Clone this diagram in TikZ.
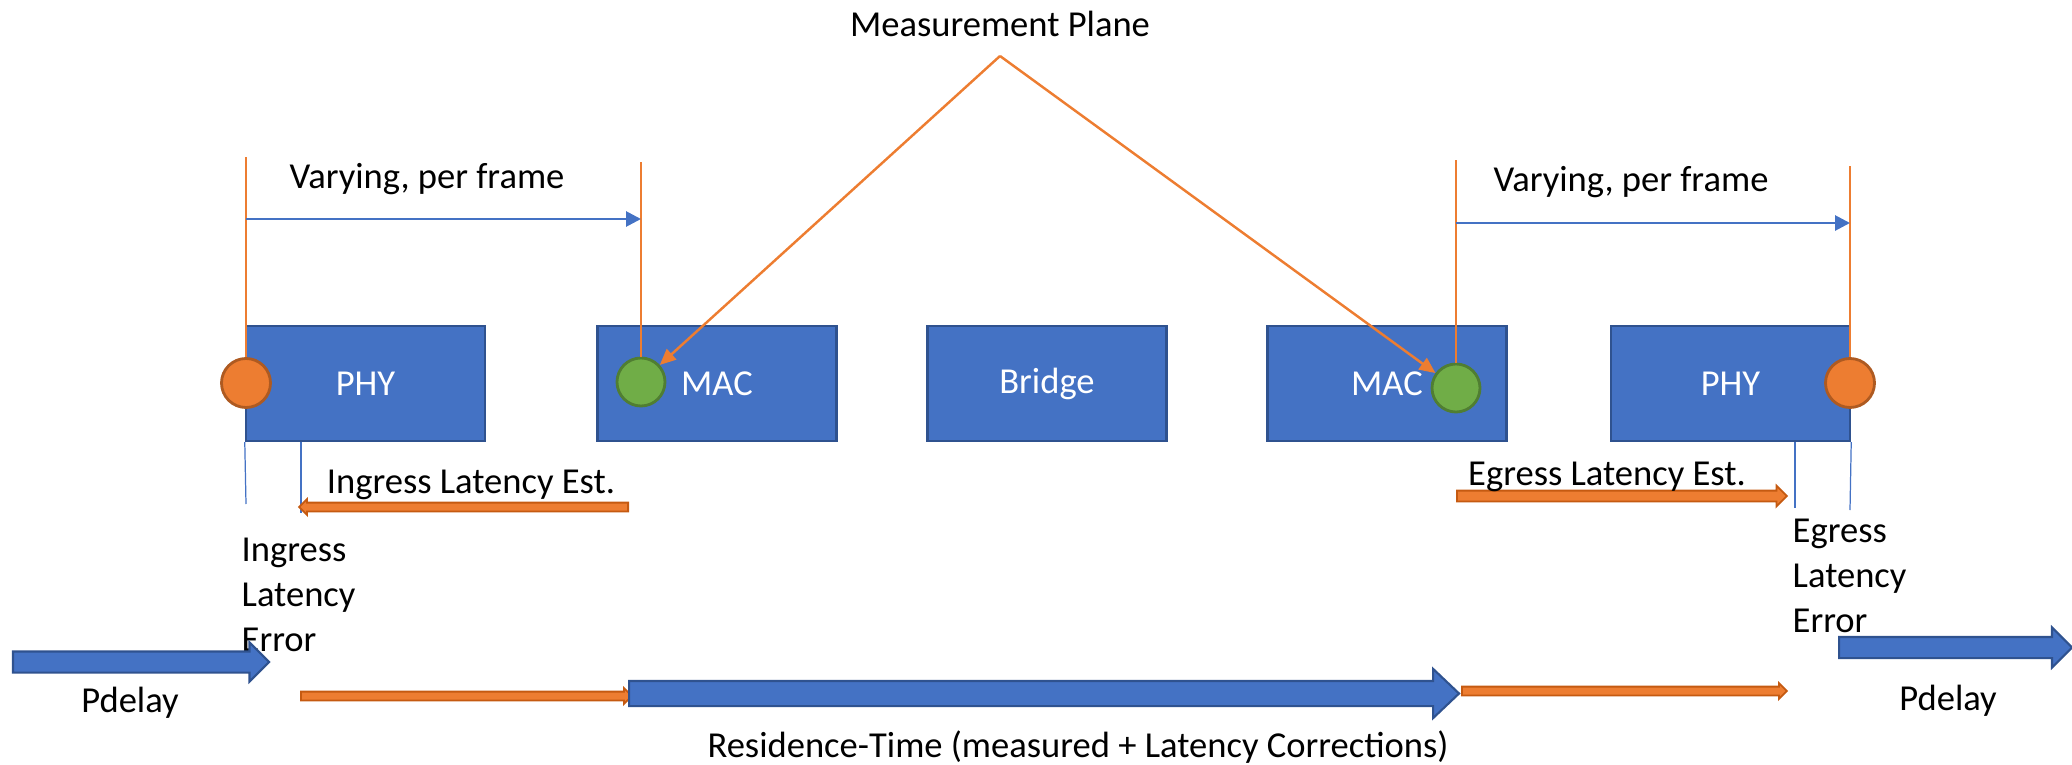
\documentclass[tikz,border=0pt]{standalone}
\usepackage{fontspec}
\setmainfont{Carlito}
\usepackage{tikz}
\usetikzlibrary{
    arrows.meta,
    shapes.arrows
}
\definecolor{unitblue}{HTML}{4472C4}
\definecolor{unitedge}{HTML}{2F528F}
\definecolor{stamp}{HTML}{ED7D31}
\definecolor{stampedge}{HTML}{AE5A21}
\definecolor{plane}{HTML}{70AD47}
\definecolor{planeedge}{HTML}{507E32}
\definecolor{corredge}{HTML}{C55A11}

\tikzset{
    unit/.style={draw=unitedge, fill=unitblue, line width=0.7pt, text=white,
        minimum width=2.39cm, minimum height=1.15cm, inner sep=0pt},
    tsdot/.style={circle, draw=stampedge, fill=stamp, line width=0.8pt,
        minimum size=0.49cm, inner sep=0pt},
    mpdot/.style={circle, draw=planeedge, fill=plane, line width=0.8pt,
        minimum size=0.48cm, inner sep=0pt},
    lbl/.style={anchor=base, inner sep=0pt},
    stampline/.style={stamp, line width=0.45pt},
    edgeline/.style={unitblue, line width=0.35pt},
    vary/.style={unitblue, line width=0.8pt, -{Triangle[length=0.15cm, width=0.15cm]}},
    pointer/.style={stamp, line width=0.7pt, -{Triangle[length=0.16cm, width=0.14cm]}},
    blk/.style={single arrow, anchor=tail, inner xsep=0pt, single arrow tip angle=90},
    flow/.style={blk, draw=unitedge, fill=unitblue, line width=0.6pt},
    corr/.style={blk, draw=corredge, fill=stamp, line width=0.5pt,
        inner ysep=0.035cm, minimum width=0.14cm, single arrow head extend=0.035cm}
}

\begin{document}
\begin{tikzpicture}[x=1cm, y=-1cm, font=\fontsize{10.4}{12.8}\selectfont]
    \useasboundingbox (0,0) rectangle (20.72,7.65);

    % Title and pointers
    \node[lbl] (mplane) at (10.00,0.36) {Measurement Plane};
    \coordinate (apex) at (10.00,0.56);

    % Units
    \node[unit] (phyL) at (3.655,3.835) {PHY};
    \node[unit] (macL) at (7.17,3.835) {MAC};
    \node[unit] (bridge) at (10.47,3.835) {Bridge};
    \node[unit] (macR) at (13.87,3.835) {MAC};
    \node[unit] (phyR) at (17.305,3.835) {PHY};

    % Timestamp points
    \node[tsdot] (tsL) at (2.46,3.83) {};
    \node[mpdot] (mpL) at (6.41,3.82) {};
    \node[mpdot] (mpR) at (14.56,3.88) {};
    \node[tsdot] (tsR) at (18.50,3.83) {};

    % Vertical markers
    \coordinate (topL0) at (2.46,1.57);
    \coordinate (topL1) at (6.41,1.62);
    \coordinate (topR0) at (14.56,1.60);
    \coordinate (topR1) at (18.50,1.66);
    \draw[stampline] (topL0) -- (tsL.north);
    \draw[stampline] (topL1) -- (mpL.north);
    \draw[stampline] (topR0) -- (mpR.north);
    \draw[stampline] (topR1) -- (tsR.north);

    % Varying, per frame
    \coordinate (vaL0) at (2.46,2.19);
    \coordinate (vaL1) at (6.41,2.19);
    \coordinate (vaR0) at (14.56,2.23);
    \coordinate (vaR1) at (18.50,2.23);
    \draw[vary] (vaL0) -- (vaL1);
    \draw[vary] (vaR0) -- (vaR1);
    \node[lbl] (varyL) at (4.27,1.88) {Varying, per frame};
    \node[lbl] (varyR) at (16.31,1.91) {Varying, per frame};

    % Measurement plane pointers
    \draw[pointer] (apex) -- (mpL);
    \draw[pointer] (apex) -- (mpR);

    % Latency markers below PHYs
    \coordinate (ingA) at (2.46,5.04);
    \coordinate (ingB) at (3.01,5.13);
    \coordinate (egrA) at (17.95,5.08);
    \coordinate (egrB) at (18.50,5.10);
    \draw[edgeline] (phyL.south west) -- (ingA);
    \draw[edgeline] (phyL.south -| ingB) -- (ingB);
    \draw[edgeline] (phyR.south -| egrA) -- (egrA);
    \draw[edgeline] (phyR.south east) -- (egrB);

    % Latency estimates
    \node[corr, shape border rotate=180, minimum height=3.29cm] (ingEst) at (6.29,5.07) {};
    \node[lbl] at (4.71,4.93) {Ingress Latency Est.};
    \node[corr, inner ysep=0.045cm, minimum width=0.19cm, single arrow head extend=0.05cm,
        minimum height=3.30cm] (egrEst) at (14.56,4.96) {};
    \node[lbl] at (16.07,4.85) {Egress Latency Est.};

    \node[anchor=north west, align=left, inner sep=0pt] (ingErr) at (2.41,5.37) {Ingress\\Latency\\Error};
    \node[anchor=north west, align=left, inner sep=0pt] (egrErr) at (17.92,5.18) {Egress\\Latency\\Error};

    % Bottom row
    \node[flow, inner ysep=0.095cm, minimum width=0.37cm, single arrow head extend=0.09cm,
        minimum height=2.56cm] (pdL) at (0.12,6.62) {};
    \node[lbl] at (1.30,7.12) {Pdelay};
    \node[corr, minimum height=3.31cm] (corrL) at (3.00,6.96) {};
    \node[flow, inner ysep=0.115cm, minimum width=0.47cm, single arrow head extend=0.12cm,
        single arrow tip angle=87, minimum height=8.30cm] (resid) at (6.28,6.935) {};
    \node[corr, minimum height=3.25cm] (corrR) at (14.61,6.91) {};
    \node[flow, inner ysep=0.095cm, minimum width=0.38cm, single arrow head extend=0.095cm,
        minimum height=2.33cm] (pdR) at (18.38,6.475) {};
    \node[lbl] at (19.48,7.10) {Pdelay};
    \node[lbl] at (10.78,7.57) {Residence-Time (measured + Latency Corrections)};
\end{tikzpicture}
\end{document}
